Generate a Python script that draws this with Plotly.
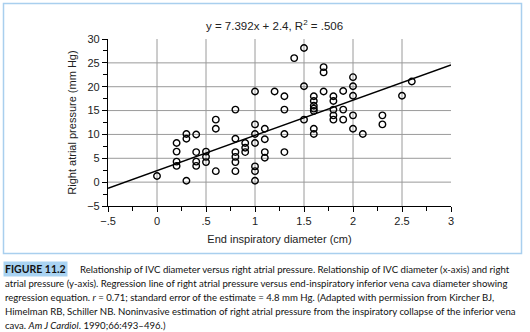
import plotly.graph_objects as go

# ---- data ----
ivc_diameter = [
    0.0,
    0.2, 0.2, 0.2, 0.2,
    0.3, 0.3, 0.3,
    0.4, 0.4, 0.4, 0.4,
    0.5, 0.5, 0.5,
    0.6, 0.6, 0.6,
    0.8, 0.8, 0.8, 0.8, 0.8, 0.8,
    0.9, 0.9, 0.9,
    1.0, 1.0, 1.0, 1.0, 1.0, 1.0, 1.0,
    1.1, 1.1, 1.1, 1.1,
    1.2,
    1.3, 1.3, 1.3, 1.3,
    1.4,
    1.5, 1.5, 1.5,
    1.6, 1.6, 1.6, 1.6, 1.6, 1.6, 1.6,
    1.7, 1.7, 1.7,
    1.8, 1.8, 1.8, 1.8, 1.8,
    1.9, 1.9, 1.9,
    2.0, 2.0, 2.0, 2.0, 2.0,
    2.1,
    2.3, 2.3,
    2.5,
    2.6,
]
ra_pressure = [
    1.3,
    8.2, 6.4, 4.3, 3.4,
    10.1, 9.1, 0.3,
    10.0, 6.3, 4.3, 3.4,
    6.4, 5.3, 4.2,
    13.1, 11.2, 2.3,
    15.2, 9.1, 6.3, 5.3, 4.2, 2.3,
    8.2, 7.2, 6.3,
    19.0, 12.1, 10.1, 8.2, 3.3, 2.3, 0.3,
    11.2, 9.0, 6.3, 5.1,
    19.0,
    18.0, 15.2, 10.1, 6.3,
    26.0,
    28.1, 20.1, 13.1,
    18.0, 17.0, 16.0, 15.4, 14.9, 11.2, 10.1,
    24.1, 23.0, 19.0,
    18.0, 17.0, 15.2, 14.0, 13.1,
    19.1, 15.2, 13.1,
    22.0, 20.1, 18.1, 14.0, 11.2,
    10.1,
    14.0, 12.1,
    18.1,
    21.1,
]
slope = 7.392
intercept = 2.4
title_text = "y = 7.392x + 2.4, R<sup>2</sup> = .506"

x_tickvals = [-0.5, 0, 0.5, 1, 1.5, 2, 2.5, 3]
x_ticktext = ["\u2212.5", "0", ".5", "1", "1.5", "2", "2.5", "3"]
y_tickvals = [-5, 0, 5, 10, 15, 20, 25, 30]
y_ticktext = ["\u22125", "0", "5", "10", "15", "20", "25", "30"]

caption_lines = [
    "Relationship of IVC diameter versus right atrial pressure. Relationship of IVC diameter (x-axis) and right",
    "atrial pressure (y-axis). Regression line of right atrial pressure versus end-inspiratory inferior vena cava diameter showing",
    "regression equation. <i>r</i> = 0.71; standard error of the estimate = 4.8 mm Hg. (Adapted with permission from Kircher BJ,",
    "Himelman RB, Schiller NB. Noninvasive estimation of right atrial pressure from the inspiratory collapse of the inferior vena",
    "cava. <i>Am J Cardiol</i>. 1990;66:493\u2013496.)",
]

# ---- layout geometry ----
W, H = 530, 332
ML, MR, MT, MB = 108, 79, 39, 126
PW, PH = W - ML - MR, H - MT - MB


def px2x(px):
    return (px - ML) / PW


def py2y(py):
    return (H - MB - py) / PH


xr = [x_tickvals[0], x_tickvals[-1]]
yr = [y_tickvals[0], y_tickvals[-1]]

fig = go.Figure()

# regression line
fig.add_trace(go.Scatter(
    x=xr, y=[slope * v + intercept for v in xr],
    mode="lines", line=dict(color="black", width=1.5),
    hoverinfo="skip", showlegend=False, cliponaxis=False,
))
fig.add_trace(go.Scatter(
    x=ivc_diameter, y=ra_pressure, mode="markers",
    marker=dict(symbol="circle-open", size=6.5, color="black", line=dict(width=1.4, color="black")),
    showlegend=False,
))

shapes = []
for xv in x_tickvals[1:-1]:
    shapes.append(dict(type="line", xref="x", yref="y", x0=xv, x1=xv, y0=yr[0], y1=yr[1],
                       line=dict(color="#9a9a9a", width=1), layer="below"))
for yv in y_tickvals[1:-1]:
    shapes.append(dict(type="line", xref="x", yref="y", x0=xr[0], x1=xr[1], y0=yv, y1=yv,
                       line=dict(color="#9a9a9a", width=1), layer="below"))
# outer light-blue frame
shapes.append(dict(type="rect", xref="paper", yref="paper",
                   x0=px2x(3.5), x1=px2x(521.5), y0=py2y(253.5), y1=py2y(3.5),
                   line=dict(color="#a9cfee", width=1.5), layer="below"))

cap_font = dict(family="Lato, sans-serif", size=9.6, color="#111")
annotations = [
    dict(text=title_text, xref="paper", yref="paper", x=px2x(274), y=py2y(25),
         showarrow=False, xanchor="center", yanchor="middle",
         font=dict(family="Liberation Sans, Arial, sans-serif", size=11.5, color="#222")),
    dict(text="<b>FIGURE 11.2</b>", xref="paper", yref="paper", x=px2x(3), y=py2y(269),
         showarrow=False, xanchor="left", yanchor="middle", bgcolor="#a9d3f2", borderpad=1,
         font=dict(family="Lato, sans-serif", size=10.5, color="#111")),
    dict(text=caption_lines[0], xref="paper", yref="paper", x=px2x(78), y=py2y(269),
         showarrow=False, xanchor="left", yanchor="middle", font=cap_font),
]
for i, line in enumerate(caption_lines[1:], start=1):
    annotations.append(dict(text=line, xref="paper", yref="paper", x=px2x(3), y=py2y(269 + 14.2 * i),
                            showarrow=False, xanchor="left", yanchor="middle", font=cap_font))

axis_font = dict(family="Liberation Sans, Arial, sans-serif", size=11, color="#222")

fig.update_layout(
    width=W, height=H,
    margin=dict(l=ML, r=MR, t=MT, b=MB, pad=0),
    paper_bgcolor="white", plot_bgcolor="white",
    shapes=shapes, annotations=annotations,
    xaxis=dict(range=xr, tickvals=x_tickvals, ticktext=x_ticktext, showgrid=False, zeroline=False,
               showline=True, linecolor="black", linewidth=1.2, ticks="outside", ticklen=5,
               tickcolor="black", tickwidth=1.2, tickfont=axis_font,
               minor=dict(dtick=0.25, tick0=-0.5, ticks="outside", ticklen=4, tickcolor="black", tickwidth=1.2, showgrid=False),
               title=dict(text="End inspiratory diameter (cm)", font=axis_font, standoff=9)),
    yaxis=dict(range=yr, tickvals=y_tickvals, ticktext=y_ticktext, showgrid=False, zeroline=False,
               showline=True, linecolor="black", linewidth=1.2, ticks="outside", ticklen=5,
               tickcolor="black", tickwidth=1.2, tickfont=axis_font,
               minor=dict(dtick=2.5, tick0=-5, ticks="outside", ticklen=4, tickcolor="black", tickwidth=1.2, showgrid=False),
               title=dict(text="Right atrial pressure (mm Hg)", font=axis_font, standoff=8)),
)

fig.write_html("out.html")
